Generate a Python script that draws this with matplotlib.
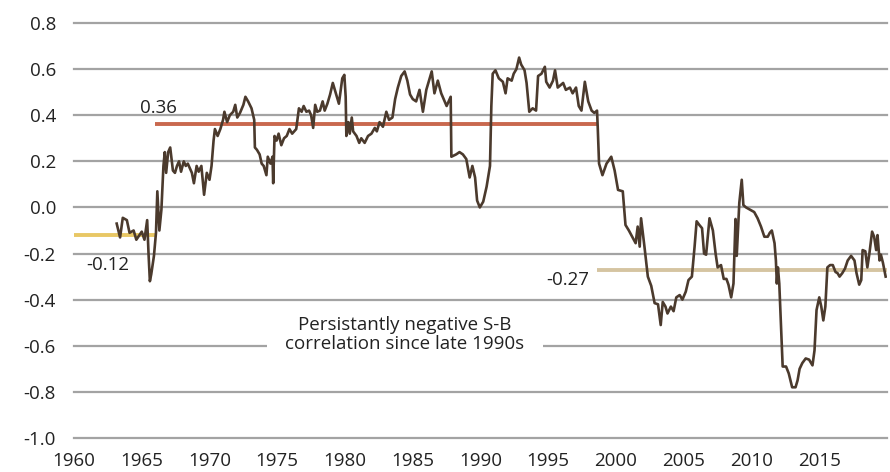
import matplotlib
matplotlib.use("Agg")
from matplotlib import pyplot as plt
from matplotlib.patches import Rectangle

plt.rcParams['font.family'] = ['Open Sans', 'DejaVu Sans']

# rolling stock-bond correlation
years = [1963.15, 1963.4, 1963.6, 1963.9, 1964.1, 1964.4, 1964.6, 1965.0, 1965.2, 1965.4,
         1965.5, 1965.6, 1965.7, 1965.9, 1966.05, 1966.15, 1966.3, 1966.45, 1966.6, 1966.7,
         1966.8, 1966.95, 1967.1, 1967.3, 1967.45, 1967.6, 1967.75, 1967.9, 1968.1, 1968.25,
         1968.4, 1968.7, 1968.85, 1969.05, 1969.2, 1969.4, 1969.6, 1969.8, 1970.0, 1970.15,
         1970.3, 1970.4, 1970.6, 1970.8, 1971.0, 1971.1, 1971.3, 1971.5, 1971.75, 1971.9,
         1972.05, 1972.25, 1972.5, 1972.65, 1972.85, 1973.1, 1973.3, 1973.35, 1973.5, 1973.7,
         1973.85, 1974.0, 1974.2, 1974.3, 1974.5, 1974.65, 1974.7, 1974.8, 1974.95, 1975.1,
         1975.3, 1975.5, 1975.7, 1975.9, 1976.1, 1976.4, 1976.6, 1976.8, 1976.95, 1977.15,
         1977.35, 1977.5, 1977.65, 1977.8, 1977.95, 1978.15, 1978.35, 1978.5, 1978.7, 1978.9,
         1979.1, 1979.3, 1979.55, 1979.8, 1979.95, 1980.05, 1980.1, 1980.25, 1980.35, 1980.5,
         1980.6, 1980.85, 1981.05, 1981.2, 1981.45, 1981.7, 1981.95, 1982.2, 1982.35, 1982.55,
         1982.8, 1983.05, 1983.25, 1983.5, 1983.7, 1983.9, 1984.15, 1984.4, 1984.6, 1984.8,
         1985.0, 1985.25, 1985.5, 1985.75, 1986.0, 1986.4, 1986.6, 1986.85, 1987.1, 1987.5,
         1987.8, 1987.85, 1988.2, 1988.45, 1988.7, 1988.95, 1989.2, 1989.4, 1989.6, 1989.75,
         1989.95, 1990.2, 1990.45, 1990.7, 1990.8, 1990.9, 1991.1, 1991.35, 1991.65, 1991.85,
         1992.0, 1992.3, 1992.45, 1992.65, 1992.85, 1993.0, 1993.25, 1993.4, 1993.6, 1993.85,
         1994.1, 1994.25, 1994.5, 1994.75, 1994.85, 1995.1, 1995.35, 1995.5, 1995.7, 1996.1,
         1996.3, 1996.6, 1996.8, 1997.05, 1997.25, 1997.45, 1997.7, 1997.95, 1998.2, 1998.4,
         1998.6, 1998.65, 1998.75, 1999.0, 1999.3, 1999.65, 1999.9, 2000.15, 2000.5, 2000.7,
         2000.95, 2001.2, 2001.45, 2001.6, 2001.75, 2001.85, 2002.1, 2002.35, 2002.6, 2002.85,
         2003.1, 2003.3, 2003.45, 2003.65, 2003.8, 2004.05, 2004.25, 2004.45, 2004.7, 2004.9,
         2005.15, 2005.35, 2005.6, 2005.8, 2005.95, 2006.15, 2006.35, 2006.5, 2006.65, 2006.9,
         2007.15, 2007.35, 2007.5, 2007.75, 2007.95, 2008.15, 2008.3, 2008.5, 2008.67, 2008.82,
         2008.91, 2009.1, 2009.28, 2009.4, 2009.6, 2009.9, 2010.2, 2010.45, 2010.7, 2010.95,
         2011.2, 2011.35, 2011.5, 2011.7, 2011.8, 2011.87, 2011.95, 2012.05, 2012.3, 2012.55,
         2012.75, 2013.0, 2013.25, 2013.4, 2013.55, 2013.75, 2014.0, 2014.25, 2014.5, 2014.65,
         2014.8, 2015.0, 2015.15, 2015.3, 2015.45, 2015.6, 2015.8, 2016.0, 2016.2, 2016.35,
         2016.5, 2016.7, 2016.9, 2017.1, 2017.35, 2017.6, 2017.75, 2017.95, 2018.1, 2018.2,
         2018.4, 2018.55, 2018.7, 2018.9, 2019.05, 2019.2, 2019.3, 2019.45, 2019.55, 2019.7,
         2019.9]
corr = [-0.07, -0.13, -0.045, -0.055, -0.11, -0.10, -0.14, -0.105, -0.14, -0.055,
        -0.20, -0.32, -0.29, -0.21, -0.11, 0.07, -0.10, -0.01, 0.18, 0.24,
        0.15, 0.24, 0.26, 0.16, 0.15, 0.18, 0.20, 0.155, 0.20, 0.18,
        0.19, 0.15, 0.105, 0.18, 0.155, 0.18, 0.055, 0.15, 0.12, 0.18,
        0.29, 0.34, 0.31, 0.34, 0.38, 0.415, 0.37, 0.40, 0.415, 0.445,
        0.39, 0.41, 0.445, 0.48, 0.46, 0.43, 0.38, 0.26, 0.25, 0.23,
        0.19, 0.18, 0.14, 0.22, 0.19, 0.22, 0.105, 0.31, 0.29, 0.32,
        0.27, 0.30, 0.31, 0.34, 0.32, 0.34, 0.43, 0.415, 0.44, 0.415,
        0.42, 0.40, 0.345, 0.445, 0.415, 0.42, 0.46, 0.42, 0.45, 0.49,
        0.54, 0.50, 0.45, 0.56, 0.575, 0.48, 0.31, 0.37, 0.32, 0.39,
        0.33, 0.31, 0.28, 0.30, 0.28, 0.31, 0.32, 0.345, 0.33, 0.37,
        0.35, 0.415, 0.38, 0.39, 0.47, 0.52, 0.57, 0.59, 0.55, 0.49,
        0.47, 0.46, 0.51, 0.415, 0.51, 0.59, 0.495, 0.55, 0.495, 0.44,
        0.48, 0.22, 0.23, 0.24, 0.23, 0.21, 0.13, 0.18, 0.13, 0.03,
        0.0, 0.025, 0.09, 0.18, 0.44, 0.58, 0.595, 0.56, 0.545, 0.495,
        0.56, 0.55, 0.58, 0.60, 0.65, 0.62, 0.595, 0.54, 0.415, 0.43,
        0.42, 0.57, 0.58, 0.61, 0.545, 0.52, 0.55, 0.595, 0.52, 0.54,
        0.51, 0.52, 0.495, 0.52, 0.44, 0.42, 0.545, 0.46, 0.42, 0.41,
        0.42, 0.35, 0.19, 0.14, 0.19, 0.22, 0.16, 0.076, 0.07, -0.076,
        -0.10, -0.127, -0.155, -0.083, -0.17, -0.047, -0.17, -0.30, -0.34, -0.415,
        -0.42, -0.51, -0.41, -0.43, -0.46, -0.43, -0.45, -0.39, -0.38, -0.40,
        -0.365, -0.315, -0.30, -0.17, -0.06, -0.076, -0.09, -0.20, -0.205, -0.047,
        -0.10, -0.20, -0.26, -0.25, -0.31, -0.31, -0.335, -0.39, -0.33, -0.05,
        -0.21, 0.02, 0.12, 0.01, 0.0, -0.01, -0.02, -0.047, -0.083, -0.127,
        -0.127, -0.11, -0.10, -0.155, -0.23, -0.33, -0.26, -0.33, -0.69, -0.69,
        -0.72, -0.78, -0.78, -0.75, -0.70, -0.675, -0.655, -0.66, -0.685, -0.62,
        -0.445, -0.39, -0.43, -0.49, -0.43, -0.26, -0.25, -0.25, -0.28, -0.285,
        -0.30, -0.285, -0.265, -0.23, -0.21, -0.23, -0.285, -0.335, -0.315, -0.185,
        -0.19, -0.26, -0.20, -0.105, -0.127, -0.185, -0.12, -0.23, -0.205, -0.24,
        -0.30]

# regime averages
regime_start = [1960, 1966.0, 1998.6]
regime_end = [1966.0, 1998.6, 2020]
regime_mean = [-0.12, 0.36, -0.27]
regime_label = ['-0.12', '0.36', '-0.27']

xticks = [1960, 1965, 1970, 1975, 1980, 1985, 1990, 1995, 2000, 2005, 2010, 2015]
yticks = [0.8, 0.6, 0.4, 0.2, 0.0, -0.2, -0.4, -0.6, -0.8, -1.0]

note = 'Persistantly negative S-B\ncorrelation since late 1990s'

fig = plt.figure(figsize=(8.9, 4.72), dpi=100)
ax = fig.add_axes([74 / 890, 34 / 472, 813 / 890, 415 / 472])
ax.set_xlim(1960, 2020)
ax.set_ylim(-1.0, 0.8)

for y in yticks:
    ax.axhline(y, color='#a3a3a3', lw=1.6, zorder=1, clip_on=False)

# white patch behind the note
ax.add_patch(Rectangle((1974.23, -0.77), 20.36, 0.355, facecolor='white',
                       edgecolor='none', zorder=2))
ax.text(1984.4, -0.55, note, ha='center', va='center', fontsize=13.5,
        color='#222222', linespacing=1.05, zorder=3)

seg_colors = ['#e8c765', '#c9684e', '#d5c4a1']
for x0, x1, m, c in zip(regime_start, regime_end, regime_mean, seg_colors):
    ax.plot([x0, x1], [m, m], color=c, lw=2.8, solid_capstyle='butt', zorder=3)

ax.plot(years, corr, color='#4b3a2d', lw=1.9, zorder=4)

label_pos = [(1960.88, -0.271), (1964.87, 0.41), (1994.88, -0.336)]
for (lx, ly), t in zip(label_pos, regime_label):
    ax.text(lx, ly, t, ha='left', va='baseline', fontsize=13.5, color='#222222', zorder=5)

ax.set_xticks(xticks)
ax.set_yticks(yticks)
ax.set_yticklabels(['%.1f' % v for v in yticks])
ax.tick_params(length=0, labelsize=13.5, labelcolor='#222222')
ax.tick_params(axis='y', pad=13)
ax.tick_params(axis='x', pad=10)
for s in ax.spines.values():
    s.set_visible(False)

fig.savefig('out.png', dpi=100)
